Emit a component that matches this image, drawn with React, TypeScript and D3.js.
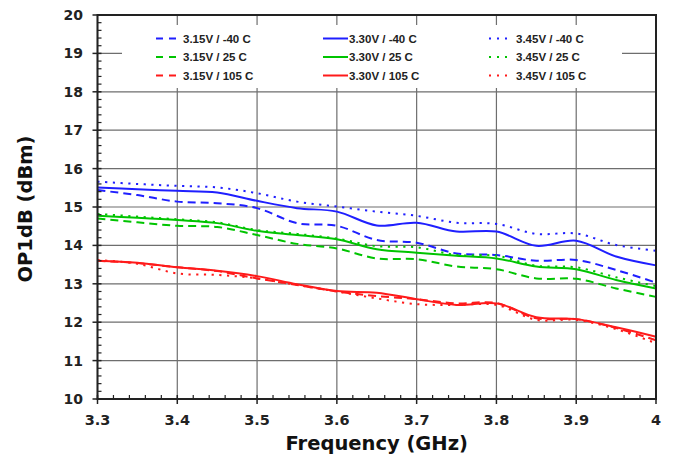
import React from "react";
import * as d3 from "d3";

const freqs = [3.3, 3.35, 3.4, 3.45, 3.5, 3.55, 3.6, 3.65, 3.7, 3.75, 3.8, 3.85, 3.9, 3.95, 4.0];

const v315m40 = [15.44, 15.31, 15.14, 15.1, 14.97, 14.58, 14.51, 14.14, 14.07, 13.79, 13.75, 13.6, 13.62, 13.36, 13.03];
const v330m40 = [15.51, 15.46, 15.42, 15.38, 15.16, 14.97, 14.88, 14.52, 14.59, 14.36, 14.36, 13.99, 14.12, 13.71, 13.48];
const v345m40 = [15.66, 15.6, 15.55, 15.51, 15.36, 15.14, 15.01, 14.88, 14.77, 14.59, 14.56, 14.3, 14.31, 14.01, 13.86];
const v315p25 = [14.7, 14.6, 14.51, 14.48, 14.27, 14.04, 13.92, 13.66, 13.64, 13.45, 13.38, 13.14, 13.13, 12.88, 12.66];
const v330p25 = [14.77, 14.72, 14.66, 14.58, 14.38, 14.27, 14.16, 13.9, 13.81, 13.73, 13.66, 13.45, 13.38, 13.1, 12.88];
const v345p25 = [14.82, 14.75, 14.68, 14.6, 14.4, 14.3, 14.18, 13.98, 13.95, 13.75, 13.73, 13.47, 13.43, 13.17, 12.94];
const v315p105 = [13.6, 13.54, 13.43, 13.33, 13.14, 12.97, 12.8, 12.68, 12.6, 12.49, 12.5, 12.1, 12.08, 11.85, 11.53];
const v330p105 = [13.6, 13.55, 13.43, 13.34, 13.2, 12.99, 12.81, 12.77, 12.6, 12.45, 12.49, 12.13, 12.08, 11.87, 11.62];
const v345p105 = [13.62, 13.52, 13.27, 13.23, 13.14, 12.97, 12.8, 12.62, 12.47, 12.45, 12.45, 12.06, 12.06, 11.82, 11.45];

const xTicks = [3.3, 3.4, 3.5, 3.6, 3.7, 3.8, 3.9, 4.0];
const xTickLabels = ["3.3", "3.4", "3.5", "3.6", "3.7", "3.8", "3.9", "4"];
const yTicks = [10, 11, 12, 13, 14, 15, 16, 17, 18, 19, 20];

const BLUE = "#1f1fff";
const GREEN = "#00c400";
const RED = "#ff1a1a";

const series = [
  { name: "3.15V / -40 C", values: v315m40, color: BLUE, style: "dash", col: 0, row: 0 },
  { name: "3.30V / -40 C", values: v330m40, color: BLUE, style: "solid", col: 1, row: 0 },
  { name: "3.45V / -40 C", values: v345m40, color: BLUE, style: "dot", col: 2, row: 0 },
  { name: "3.15V / 25 C", values: v315p25, color: GREEN, style: "dash", col: 0, row: 1 },
  { name: "3.30V / 25 C", values: v330p25, color: GREEN, style: "solid", col: 1, row: 1 },
  { name: "3.45V / 25 C", values: v345p25, color: GREEN, style: "dot", col: 2, row: 1 },
  { name: "3.15V / 105 C", values: v315p105, color: RED, style: "dash", col: 0, row: 2 },
  { name: "3.30V / 105 C", values: v330p105, color: RED, style: "solid", col: 1, row: 2 },
  { name: "3.45V / 105 C", values: v345p105, color: RED, style: "dot", col: 2, row: 2 },
];

const dashFor = (s: string) => (s === "dash" ? "8,5" : s === "dot" ? "2.2,5.5" : undefined);

export default function App() {
  const W = 676, H = 462;
  const L = 97.5, R = 656, T = 15, B = 399;
  const x = d3.scaleLinear().domain([3.3, 4.0]).range([L, R]);
  const y = d3.scaleLinear().domain([10, 20]).range([B, T]);
  const line = d3
    .line<number>()
    .x((_, i) => x(freqs[i]))
    .y((d) => y(d))
    .curve(d3.curveCatmullRom.alpha(0.5));

  const xMinor = d3.range(0, 36).map((i) => 3.3 + i * 0.02).filter((v) => Math.abs(Math.round(v * 10) - v * 10) > 0.01);
  const yMinor = d3.range(0, 51).map((i) => 10 + i * 0.2).filter((v) => Math.abs(Math.round(v) - v) > 0.01);

  const legCols = [156, 323, 489];
  const legRows = [38.5, 57, 75.5];
  const tickFont = "'DejaVu Sans', Verdana, sans-serif";

  return (
    <svg width={W} height={H} style={{ position: "absolute", left: 0, top: 0, background: "#fff" }}>
      <rect x={0} y={0} width={W} height={H} fill="#fff" />
      {xTicks.map((t) => (
        <line key={"gx" + t} x1={x(t)} x2={x(t)} y1={T} y2={B} stroke="#6e6e6e" strokeWidth={1.2} />
      ))}
      {yTicks.map((t) => (
        <line key={"gy" + t} x1={L} x2={R} y1={y(t)} y2={y(t)} stroke="#6e6e6e" strokeWidth={1.2} />
      ))}
      <rect x={122} y={25} width={500} height={63} fill="#fff" />
      {series.map((s) => (
        <path
          key={s.name}
          d={line(s.values) || ""}
          fill="none"
          stroke={s.color}
          strokeWidth={2}
          strokeDasharray={dashFor(s.style)}
        />
      ))}
      <rect x={L} y={T} width={R - L} height={B - T} fill="none" stroke="#222" strokeWidth={2} />
      {yTicks.map((t) => (
        <line key={"ty" + t} x1={L - 5} x2={L + 4} y1={y(t)} y2={y(t)} stroke="#222" strokeWidth={1.5} />
      ))}
      {yMinor.map((t, i) => (
        <line key={"tym" + i} x1={L} x2={L + 4} y1={y(t)} y2={y(t)} stroke="#222" strokeWidth={1.2} />
      ))}
      {xTicks.map((t) => (
        <line key={"tx" + t} x1={x(t)} x2={x(t)} y1={B - 4} y2={B + 5} stroke="#222" strokeWidth={1.5} />
      ))}
      {xMinor.map((t, i) => (
        <line key={"txm" + i} x1={x(t)} x2={x(t)} y1={B - 4} y2={B} stroke="#222" strokeWidth={1.2} />
      ))}
      {yTicks.map((t) => (
        <text key={"ly" + t} x={83} y={y(t)} dy="0.36em" textAnchor="end" fontFamily={tickFont} fontWeight="bold" fontSize={14} fill="#222">
          {t}
        </text>
      ))}
      {xTicks.map((t, i) => (
        <text key={"lx" + t} x={x(t)} y={425} textAnchor="middle" fontFamily={tickFont} fontWeight="bold" fontSize={14.5} fill="#222">
          {xTickLabels[i]}
        </text>
      ))}
      <text x={(L + R) / 2} y={450} textAnchor="middle" fontFamily={tickFont} fontWeight="bold" fontSize={19.5} fill="#111">
        Frequency (GHz)
      </text>
      <text
        transform={`translate(32, ${(T + B) / 2 + 2}) rotate(-90)`}
        textAnchor="middle"
        fontFamily={tickFont}
        fontWeight="bold"
        fontSize={19.5}
        fill="#111"
      >
        OP1dB (dBm)
      </text>
      {series.map((s) => {
        const lx = legCols[s.col];
        const ly = legRows[s.row];
        const len = s.style === "solid" ? 25 : 21;
        return (
          <g key={"leg" + s.name}>
            <line x1={lx} x2={lx + len} y1={ly} y2={ly} stroke={s.color} strokeWidth={2} strokeDasharray={s.style === "dash" ? "7,6" : s.style === "dot" ? "2,6" : undefined} />
            <text x={lx + len + (s.style === "solid" ? 1 : 6)} y={ly} dy="0.35em" fontFamily="'Liberation Sans', Arial, sans-serif" fontWeight="bold" fontSize={11.5} fill="#222">
              {s.name}
            </text>
          </g>
        );
      })}
    </svg>
  );
}
